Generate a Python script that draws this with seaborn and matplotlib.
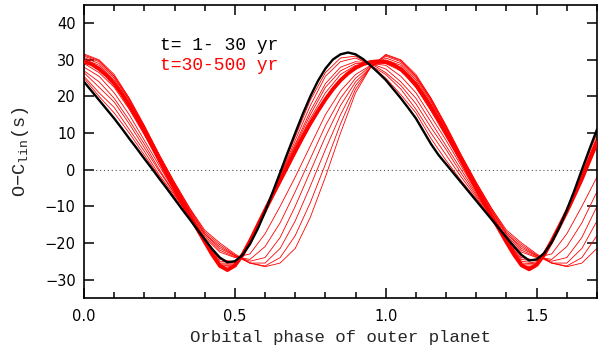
import numpy as np
import pandas as pd
import matplotlib
matplotlib.use("Agg")
import matplotlib.pyplot as plt
import seaborn as sns

# ---------------- data ----------------
# fine phase grid for the black curve and the final red curve
phase_fine = [0.000, 0.025, 0.050, 0.075, 0.100, 0.125, 0.150, 0.175, 0.200, 0.225,
              0.250, 0.275, 0.300, 0.325, 0.350, 0.375, 0.400, 0.425, 0.450, 0.475,
              0.500, 0.525, 0.550, 0.575, 0.600, 0.625, 0.650, 0.675, 0.700, 0.725,
              0.750, 0.775, 0.800, 0.825, 0.850, 0.875, 0.900, 0.925, 0.950, 0.975,
              1.000, 1.025, 1.050, 1.075, 1.100, 1.125, 1.150, 1.175, 1.200, 1.225,
              1.250, 1.275, 1.300, 1.325, 1.350, 1.375, 1.400, 1.425, 1.450, 1.475,
              1.500, 1.525, 1.550, 1.575, 1.600, 1.625, 1.650, 1.675, 1.700]

# t = 1-30 yr (black)
black_1_30 = [24, 21.5, 19, 16.5, 14, 11.3, 8.5, 5.8, 3, 0.3,
              -2.5, -5.2, -8, -10.8, -13.5, -16.3, -19, -21.7, -24, -25.3,
              -25, -23.3, -20.3, -16.3, -11.5, -6.2, -0.8, 4.7, 10, 15.2,
              20, 24.2, 27.6, 30.1, 31.5, 32, 31.5, 30.2, 28.4, 26.5,
              24.5, 22, 19.5, 16.8, 14, 10.5, 7, 4, 1.5, -1,
              -3.5, -6, -8.5, -11, -13.5, -16, -18.5, -21, -23.3, -24.8,
              -24.5, -22.8, -19.8, -15.8, -11, -5.7, 0, 5.6, 11]

# t = 30-500 yr, final state (thick red band)
red_final = [29.5, 28.8, 27.5, 25.7, 23.5, 20.7, 17.5, 14.1, 10.5, 6.6,
             2.6, -1.3, -5.1, -8.8, -12.5, -16.1, -19.7, -23.2, -26.2, -27.4,
             -26.2, -23.3, -19.5, -15.3, -11.1, -7, -3, 1, 5, 8.9,
             12.6, 16, 19.2, 22, 24.4, 26.3, 27.8, 28.8, 29.4, 29.6,
             29.4, 28.7, 27.4, 25.5, 23.1, 20.2, 17, 13.6, 10, 6.3,
             2.5, -1.3, -5.1, -8.9, -12.6, -16.2, -19.8, -23.2, -26.1, -27.2,
             -26, -23.2, -19.5, -15.5, -11.4, -7, -2.5, 2.5, 7.5]

# coarser phase grid for the intermediate thin red curves
phase = [0.00, 0.05, 0.10, 0.15, 0.20, 0.25, 0.30, 0.35, 0.40, 0.45,
         0.50, 0.55, 0.60, 0.65, 0.70, 0.75, 0.80, 0.85, 0.90, 0.95,
         1.00, 1.05, 1.10, 1.15, 1.20, 1.25, 1.30, 1.35, 1.40, 1.45,
         1.50, 1.55, 1.60, 1.65, 1.70]

red_e1 = [25, 20, 15.5, 10, 4, -2, -7.5, -13.5, -19, -24.5,
          -25.2, -20.5, -11.5, -1, 9, 19, 26.5, 30.5, 31, 28.5,
          25, 20.5, 15.5, 8.5, 2.5, -3, -8, -13.5, -18.5, -24,
          -24.8, -20, -11, -0.5, 10]
red_e2 = [25.5, 21, 17, 11, 5, -1.5, -7, -13, -19, -25,
          -25.3, -20.5, -11.5, -1.5, 8, 17.5, 25.5, 29.5, 30.5, 28.5,
          26, 22, 16.5, 10, 4, -2, -7.5, -13.5, -19, -24.5,
          -25, -20, -11, -1, 9]
red_e3 = [26.5, 22.5, 18.5, 12.5, 6, -0.5, -6.5, -13, -19, -25.5,
          -25.5, -20.5, -11.5, -1.5, 7, 16, 23.5, 28, 29.5, 29,
          26.5, 23, 18, 11.5, 5.5, -1, -7, -13, -19, -25,
          -25.5, -20, -11.5, -1.5, 8.5]
red_e4 = [27, 24, 19.5, 13.5, 7, 0, -6.5, -13, -19.5, -25.8,
          -25.8, -20, -11, -2, 6.5, 15, 22.5, 27, 29, 29,
          27.5, 24, 19.5, 13, 6.5, 0, -6.5, -13, -19, -25.5,
          -25.7, -20, -11.5, -2, 8]
red_e5 = [28, 25.5, 21, 15, 8, 1, -6, -12.5, -19.5, -26.3,
          -26, -20, -11, -2.5, 6, 14, 21, 26, 28.5, 29,
          28.5, 25.5, 21, 14.5, 8, 1, -6, -12.5, -19.5, -26,
          -26, -20, -11.5, -2.5, 7]
red_e6 = [29, 26.5, 22.5, 16.5, 9.5, 2, -5.5, -12.5, -19.5, -26.8,
          -26.3, -19.5, -11, -3, 5.5, 13, 19.5, 24.5, 28, 29.2,
          29, 27, 22.5, 16, 9, 2, -5.5, -12.5, -19.5, -26.5,
          -26.3, -20, -11.5, -3, 6.5]
red_l1 = [29.8, 28, 24, 18, 11, 3, -4.5, -12, -18.5, -22.5,
          -24, -23, -17.5, -10, -2, 6.5, 15, 21.5, 26, 28.5,
          29.5, 28, 24, 18, 11, 3, -4.5, -12, -18.5, -22.5,
          -24, -23, -17.5, -10, -2]
red_l2 = [30.2, 28.5, 24.5, 18.5, 11.5, 3.5, -4, -11.5, -18, -22,
          -23.8, -24.5, -21, -14.5, -6, 3, 12, 19.5, 25, 28.3,
          30, 28.5, 24.5, 18.5, 11.5, 3.5, -4, -11.5, -18, -22,
          -23.8, -24.5, -21, -14.5, -6]
red_l3 = [30.6, 29, 25, 19, 11.5, 3.5, -4, -11, -17.5, -21.5,
          -23.5, -25, -24, -18.5, -10, -0.5, 9, 17.5, 24, 28,
          30.5, 29, 25, 19, 11.5, 3.5, -4, -11, -17.5, -21.5,
          -23.5, -25, -24, -18.5, -10]
red_l4 = [31, 29.5, 25.5, 19, 11.5, 3.5, -4, -11, -17.5, -21,
          -23.5, -25.5, -25.5, -21.5, -14, -4.5, 5.5, 15, 23, 28,
          31, 29.5, 25.5, 19, 11.5, 3.5, -4, -11, -17.5, -21,
          -23.5, -25.5, -25.5, -21.5, -14]
red_l5 = [31.3, 29.8, 25.5, 19.5, 12, 4, -3.5, -10.5, -17, -20.5,
          -23.3, -25.5, -26.3, -24, -18, -9, 1.5, 12.5, 22, 28,
          31.3, 29.8, 25.5, 19.5, 12, 4, -3.5, -10.5, -17, -20.5,
          -23.3, -25.5, -26.3, -24, -18]
red_l6 = [31.6, 30, 26, 19.5, 12, 4, -3.5, -10.5, -16.5, -20,
          -23, -25.5, -26.5, -25.5, -21.5, -13, -2, 10, 21, 28,
          31.5, 30, 26, 19.5, 12, 4, -3.5, -10.5, -16.5, -20,
          -23, -25.5, -26.5, -25.5, -21.5]

thin_red = {"e1": red_e1, "e2": red_e2, "e3": red_e3, "e4": red_e4,
            "e5": red_e5, "e6": red_e6, "l1": red_l1, "l2": red_l2,
            "l3": red_l3, "l4": red_l4, "l5": red_l5, "l6": red_l6}

x_ticks = [0.0, 0.5, 1.0, 1.5]
x_tick_labels = ["0.0", "0.5", "1.0", "1.5"]
x_minor_ticks = [0.1, 0.2, 0.3, 0.4, 0.6, 0.7, 0.8, 0.9, 1.1, 1.2, 1.3, 1.4, 1.6, 1.7]
y_ticks = [-30, -20, -10, 0, 10, 20, 30, 40]
legend_lines = ["t= 1- 30 yr", "t=30-500 yr"]

# ---------------- build tables ----------------
thin_df = pd.concat(
    [pd.DataFrame({"phase": phase, "oc": v, "curve": k}) for k, v in thin_red.items()],
    ignore_index=True)
black_df = pd.DataFrame({"phase": phase_fine, "oc": black_1_30})
final_df = pd.DataFrame({"phase": phase_fine, "oc": red_final})

# ---------------- plot ----------------
sns.set_style("ticks")
mono = "Liberation Mono"
plt.rcParams["mathtext.fontset"] = "custom"
plt.rcParams["mathtext.rm"] = mono

fig = plt.figure(figsize=(6.0, 3.5), dpi=100)
ax = fig.add_axes([0.14, 0.149, 0.855, 0.837])

ax.axhline(0, color="#555555", lw=0.8, ls=(0, (1, 2.5)), zorder=1)

sns.lineplot(data=thin_df, x="phase", y="oc", units="curve", estimator=None,
             color="#ff0000", lw=0.6, ax=ax, legend=False, zorder=2)
sns.lineplot(data=final_df, x="phase", y="oc", color="#ff0000", lw=2.8,
             ax=ax, legend=False, zorder=3)
sns.lineplot(data=black_df, x="phase", y="oc", color="black", lw=1.7,
             ax=ax, legend=False, zorder=4)

ax.set_xlim(0, 1.7)
ax.set_ylim(-35, 45)
ax.set_xticks(x_ticks)
ax.set_xticklabels(x_tick_labels)
ax.set_xticks(x_minor_ticks, minor=True)
ax.set_yticks(y_ticks)

for s in ax.spines.values():
    s.set_visible(True)
    s.set_linewidth(1.2)
    s.set_color("black")

ax.tick_params(axis="both", which="both", direction="in", top=True, right=True,
               colors="black", width=1.1)
ax.tick_params(axis="x", which="major", length=7, pad=8)
ax.tick_params(axis="x", which="minor", length=4.5)
ax.tick_params(axis="y", which="major", length=7.5, pad=6)
for lab in ax.get_xticklabels() + ax.get_yticklabels():
    lab.set_fontfamily("DejaVu Sans")
    lab.set_fontsize(10.5)

ax.set_xlabel("Orbital phase of outer planet", fontfamily=mono, fontsize=12.5,
              labelpad=4)
ax.set_ylabel("O\u2212C$_{\\mathrm{lin}}$(s)", fontfamily=mono, fontsize=13.5,
              labelpad=10)

ax.text(0.252, 33.8, legend_lines[0], color="black", fontfamily=mono,
        fontsize=13, va="center", ha="left")
ax.text(0.252, 28.5, legend_lines[1], color="#ff0000", fontfamily=mono,
        fontsize=13, va="center", ha="left")

fig.savefig("out.png", dpi=100)
